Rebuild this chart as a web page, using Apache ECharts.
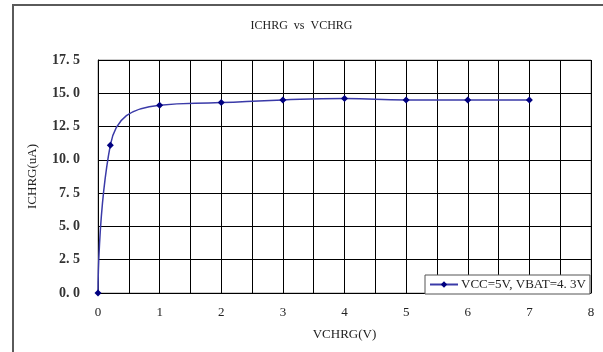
<!DOCTYPE html>
<html>
<head>
<meta charset="utf-8">
<script src="https://cdn.jsdelivr.net/npm/echarts@6/dist/echarts.min.js"></script>
<style>
  html, body { margin: 0; padding: 0; background: #fff; }
  #chart { width: 603px; height: 352px; }
</style>
</head>
<body>
<div id="chart"></div>
<script>
// Charge current measured against the CHRG pin voltage
const vchrg = [0, 0.2, 1, 2, 3, 4, 5, 6, 7];
const ichrg = [0, 11.1, 14.1, 14.3, 14.5, 14.6, 14.5, 14.5, 14.5];
const seriesName = 'VCC=5V, VBAT=4. 3V';
const titleText = 'ICHRG  vs  VCHRG';
const xName = 'VCHRG(V)';
const yName = 'ICHRG(uA)';

const FONT = '"Liberation Serif", "DejaVu Serif", serif';
const TXT = '#222';

const chart = echarts.init(document.getElementById('chart'), null, { renderer: 'canvas' });

chart.setOption({
  backgroundColor: '#fff',
  animation: false,
  title: {
    text: titleText,
    left: 'center',
    top: 15,
    textStyle: { fontFamily: FONT, fontSize: 12, fontWeight: 'normal', color: TXT }
  },
  graphic: [{
    type: 'rect',
    shape: { x: 13, y: 5, width: 600, height: 360 },
    style: { fill: null, stroke: '#5a5a5a', lineWidth: 2 },
    silent: true
  }],
  grid: {
    left: 98, right: 12, top: 60, bottom: 59,
    show: true, borderColor: '#999', borderWidth: 1
  },
  legend: {
    left: 425, top: 275,
    padding: [3, 4, 3, 4],
    itemWidth: 28, itemHeight: 8, itemGap: 0,
    backgroundColor: '#fff',
    borderColor: '#555', borderWidth: 1,
    textStyle: { fontFamily: FONT, fontSize: 13, color: TXT, padding: [0, 0, 0, -2] },
    data: [seriesName]
  },
  xAxis: {
    type: 'value',
    min: 0, max: 8, interval: 0.5,
    name: xName,
    nameLocation: 'middle',
    nameGap: 35,
    nameTextStyle: { fontFamily: FONT, fontSize: 13, color: TXT },
    axisLine: { show: true, lineStyle: { color: '#000', width: 1 } },
    axisTick: { show: false },
    axisLabel: {
      margin: 13, fontFamily: FONT, fontSize: 13, color: TXT,
      formatter: v => (Number.isInteger(v) ? String(v) : '')
    },
    splitLine: { show: true, lineStyle: { color: '#000', width: 1 } }
  },
  yAxis: {
    type: 'value',
    min: 0, max: 17.5, interval: 2.5,
    name: yName,
    nameLocation: 'middle',
    nameGap: 59,
    nameRotate: 90,
    nameTextStyle: { fontFamily: FONT, fontSize: 13, color: TXT },
    axisLine: { show: true, lineStyle: { color: '#000', width: 1 } },
    axisTick: { show: false },
    axisLabel: {
      margin: 18, fontFamily: FONT, fontSize: 14, fontWeight: 'bold', color: '#333',
      formatter: v => v.toFixed(1).replace('.', '. ')
    },
    splitLine: { show: true, lineStyle: { color: '#000', width: 1 } }
  },
  series: [{
    name: seriesName,
    type: 'line',
    data: vchrg.map((x, i) => [x, ichrg[i]]),
    smooth: 0.5,
    symbol: 'diamond',
    symbolSize: 7,
    itemStyle: { color: '#000080' },
    lineStyle: { color: '#3a3aa8', width: 1.5 }
  }]
});
</script>
</body>
</html>
